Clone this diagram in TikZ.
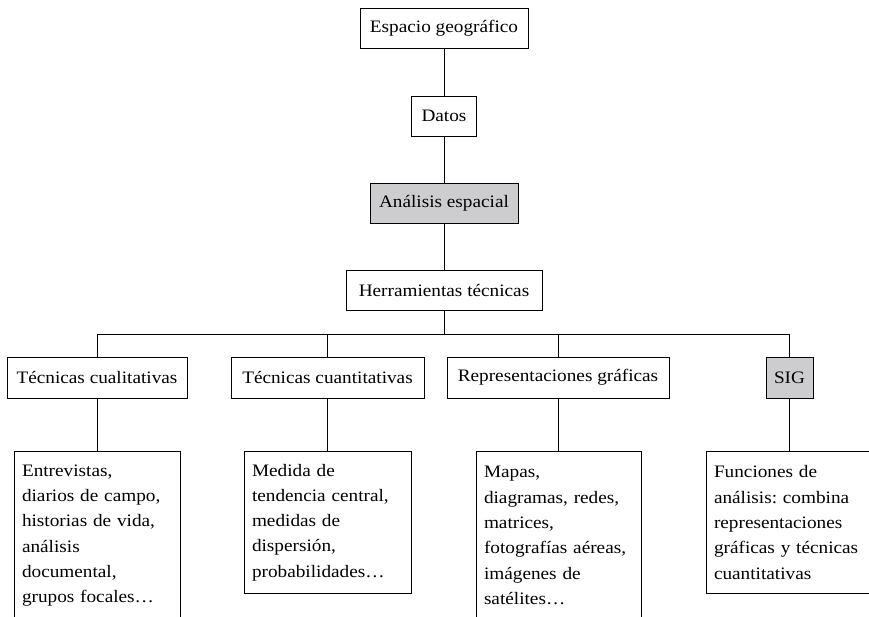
\documentclass[tikz,border=0pt]{standalone}
\usepackage{fontspec}
\setmainfont{Liberation Serif}[FakeStretch=1.1]
\usepackage{tikz}
\usetikzlibrary{shapes.geometric, arrows}
\frenchspacing
\definecolor{boxgray}{RGB}{205,205,207}
\tikzstyle{box} = [draw, rectangle, line width=0.9pt, inner sep=0pt, minimum height=40pt, font=\fontsize{17.5}{25.3}\selectfont]
\tikzstyle{graybox} = [box, fill=boxgray]
\tikzstyle{txtbox} = [draw, rectangle, line width=0.9pt, anchor=north, align=left, inner xsep=8pt, inner ysep=10pt, font=\fontsize{17.5}{25.3}\selectfont]
\tikzstyle{line} = [line width=0.9pt]

\begin{document}
\begin{tikzpicture}[x=1pt, y=-1pt]
            \useasboundingbox (0,0) rectangle (869,616);
            \node[box, minimum width=168pt] (geo) at (444,28) {Espacio geográfico};
            \node[box, minimum width=65pt] (datos) at (444,116) {Datos};
            \node[graybox, minimum width=148pt] (anal) at (444,203) {Análisis espacial};
            \node[box, minimum width=196pt] (herr) at (444,290) {Herramientas técnicas};
            \node[box, minimum width=180pt, minimum height=41pt] (cual) at (97,377.5) {Técnicas cualitativas};
            \node[box, minimum width=193pt, minimum height=41pt] (cuan) at (327.5,377.5) {Técnicas cuantitativas};
            \node[box, minimum width=222pt, minimum height=41pt] (repr) at (558,377.5) {Representaciones gráficas};
            \node[graybox, minimum width=47pt, minimum height=41pt] (sig) at (789.5,377.5) {SIG};
            \node[txtbox, text width=150pt, minimum height=168pt] (cualtxt) at (97,451) {Entrevistas,\\diarios de campo,\\historias de vida,\\análisis\\documental,\\grupos focales\dots};
            \node[txtbox, text width=151pt, minimum height=142pt] (cuantxt) at (327.5,451) {Medida de\\tendencia central,\\medidas de\\dispersión,\\probabilidades\dots};
            \node[txtbox, text width=149pt, minimum height=168pt] (reprtxt) at (558.5,451) {Mapas,\\diagramas, redes,\\matrices,\\fotografías aéreas,\\imágenes de\\satélites\dots};
            \node[txtbox, text width=150pt, minimum height=142pt] (sigtxt) at (789,451) {Funciones de\\análisis: combina\\representaciones\\gráficas y técnicas\\cuantitativas};
            \coordinate (busl) at (97,334);
            \coordinate (busr) at (789.5,334);
            \draw[line] (geo) -- (datos);
            \draw[line] (datos) -- (anal);
            \draw[line] (anal) -- (herr);
            \draw[line] (herr) -- (herr |- busl);
            \draw[line] (busl) -- (busr);
            \draw[line] (cual) -- (busl);
            \draw[line] (cuan) -- (cuan |- busl);
            \draw[line] (repr) -- (repr |- busl);
            \draw[line] (sig) -- (busr);
            \draw[line] (cual) -- (cualtxt);
            \draw[line] (cuan) -- (cuantxt);
            \draw[line] (repr) -- (repr |- reprtxt.north);
            \draw[line] (sig) -- (sig |- sigtxt.north);
        \end{tikzpicture}
\end{document}
